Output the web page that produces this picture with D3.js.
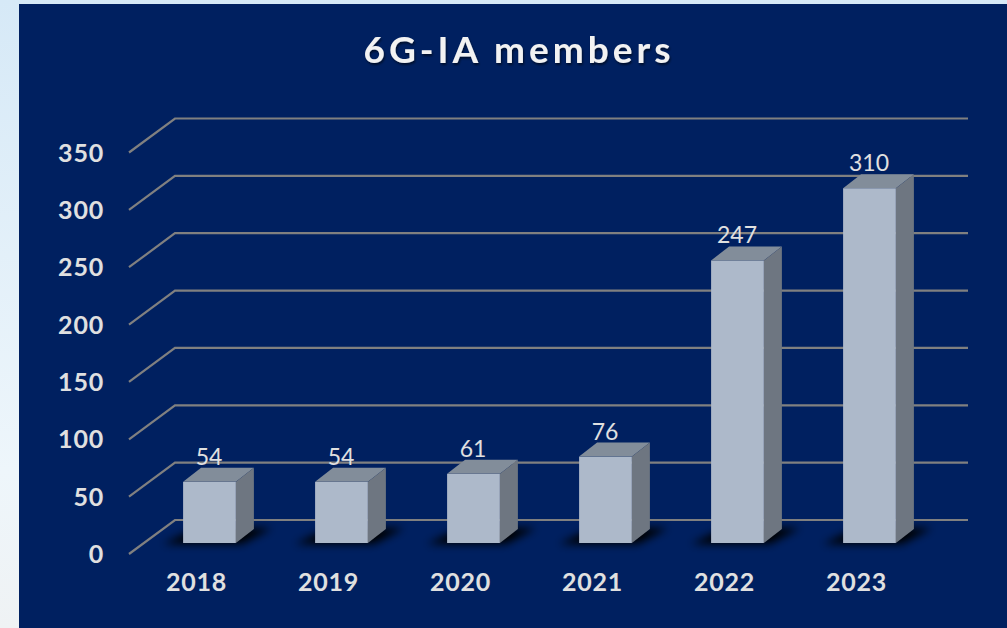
<!DOCTYPE html>
<html>
<head>
<meta charset="utf-8">
<script src="https://cdn.jsdelivr.net/npm/d3@7"></script>
<style>
  html, body { margin: 0; padding: 0; background: #fff; }
  svg { display: block; }
  text { font-family: Lato, "Open Sans", sans-serif; fill: #e0e0e0; }
</style>
</head>
<body>
<div id="chart"></div>
<script>
const width = 1007;
const height = 628;

const years = ["2018", "2019", "2020", "2021", "2022", "2023"];
const members = [54, 54, 61, 76, 247, 310];
const yTicks = [0, 50, 100, 150, 200, 250, 300, 350];

// fake 3d offsets, taken from the back wall
const wallDx = 46;
const wallDy = 34;
const barDx = 18;
const barDy = 14;

const svg = d3
  .select("#chart")
  .append("svg")
  .attr("width", width)
  .attr("height", height);

const defs = svg.append("defs");

const sideFade = defs
  .append("linearGradient")
  .attr("id", "side-fade")
  .attr("x1", "0%")
  .attr("x2", "0%")
  .attr("y1", "0%")
  .attr("y2", "100%");
sideFade.append("stop").attr("offset", "0%").style("stop-color", "#d6e9f7");
sideFade.append("stop").attr("offset", "75%").style("stop-color", "#eef6fb");
sideFade.append("stop").attr("offset", "100%").style("stop-color", "#eff2f4");

const blur = defs.append("filter").attr("id", "blur").attr("x", "-30%").attr("y", "-80%").attr("width", "160%").attr("height", "260%");
blur.append("feGaussianBlur").attr("stdDeviation", 4.5);

const titleShadow = defs.append("filter").attr("id", "title-shadow");
titleShadow
  .append("feDropShadow")
  .attr("dx", 1)
  .attr("dy", 2)
  .attr("stdDeviation", 1.2)
  .attr("flood-color", "#000")
  .attr("flood-opacity", 0.55);

svg.append("rect").attr("width", width).attr("height", height).attr("fill", "url(#side-fade)");
svg.append("rect").attr("x", 19).attr("y", 4).attr("width", width - 19).attr("height", height - 4).attr("fill", "#002060");

svg
  .append("text")
  .attr("x", 519)
  .attr("y", 63)
  .attr("text-anchor", "middle")
  .attr("font-size", 37)
  .attr("font-weight", 700)
  .attr("letter-spacing", 4)
  .attr("filter", "url(#title-shadow)")
  .style("fill", "#f2f2f2")
  .text("6G-IA members");

// back wall scale, the front edge is the same thing shifted by wallDx/wallDy
const y = d3.scaleLinear().domain([0, 350]).range([520, 118.5]);

const x = d3
  .scaleBand()
  .domain(years)
  .range([143.5, 935.5])
  .paddingInner(0.6)
  .paddingOuter(0.3);

// GRID

const gridLine = d3.line();

svg
  .append("g")
  .selectAll("path")
  .data(yTicks)
  .enter()
  .append("path")
  .attr("d", (d) =>
    gridLine([
      [175 - wallDx, y(d) + wallDy],
      [175, y(d)],
      [968, y(d)],
    ])
  )
  .attr("fill", "none")
  .attr("stroke", "#808080")
  .attr("stroke-width", 2.2);

// AXES

const yAxis = svg
  .append("g")
  .attr("transform", `translate(${175 - wallDx}, ${wallDy})`)
  .call(d3.axisLeft(y).tickValues(yTicks).tickSize(0).tickPadding(25));
yAxis.select(".domain").remove();
yAxis
  .selectAll("text")
  .attr("font-family", null)
  .attr("font-size", 25)
  .attr("font-weight", 700)
  .attr("letter-spacing", 0.8)
  .attr("dy", "0.34em");

const xAxis = svg
  .append("g")
  .attr("transform", "translate(-13, 573)")
  .call(d3.axisBottom(x).tickSize(0).tickPadding(0));
xAxis.select(".domain").remove();
xAxis
  .selectAll("text")
  .attr("font-family", null)
  .attr("font-size", 25)
  .attr("font-weight", 700)
  .attr("letter-spacing", 0.8)
  .attr("dy", "0.71em");

// BARS

const barBottom = (d) => y(0) + 23;
const barTop = (d) => y(d) + 23.8;
const bars = svg
  .append("g")
  .selectAll("g")
  .data(members)
  .enter()
  .append("g");

function polygon(points) {
  return points.map((p) => p.join(",")).join(" ");
}

bars
  .append("polygon")
  .attr("points", (d, i) => {
    const x0 = x(years[i]);
    const x1 = x0 + x.bandwidth();
    const b = barBottom(d);
    return polygon([
      [x0 - 20, b + 1],
      [x1 + 6, b + 1],
      [x1 + 36, b - 15],
      [x0 + 14, b - 15],
    ]);
  })
  .attr("fill", "#000")
  .attr("filter", "url(#blur)");

bars
  .append("rect")
  .attr("x", (d, i) => x(years[i]))
  .attr("y", (d) => barTop(d))
  .attr("width", x.bandwidth())
  .attr("height", (d) => barBottom(d) - barTop(d))
  .attr("fill", "#adb9ca");

bars
  .append("polygon")
  .attr("points", (d, i) => {
    const x0 = x(years[i]);
    const x1 = x0 + x.bandwidth();
    return polygon([
      [x0, barTop(d)],
      [x1, barTop(d)],
      [x1 + barDx, barTop(d) - barDy],
      [x0 + barDx, barTop(d) - barDy],
    ]);
  })
  .attr("fill", "#828d9a");

bars
  .append("polygon")
  .attr("points", (d, i) => {
    const x1 = x(years[i]) + x.bandwidth();
    return polygon([
      [x1, barTop(d)],
      [x1 + barDx, barTop(d) - barDy],
      [x1 + barDx, barBottom(d) - barDy],
      [x1, barBottom(d)],
    ]);
  })
  .attr("fill", "#6e7681");

bars
  .append("text")
  .attr("x", (d, i) => x(years[i]) + x.bandwidth() / 2 - 0.5)
  .attr("y", (d) => barTop(d) - barDy - 3)
  .attr("text-anchor", "middle")
  .attr("font-size", 23)
  .text((d) => d);
</script>
</body>
</html>
